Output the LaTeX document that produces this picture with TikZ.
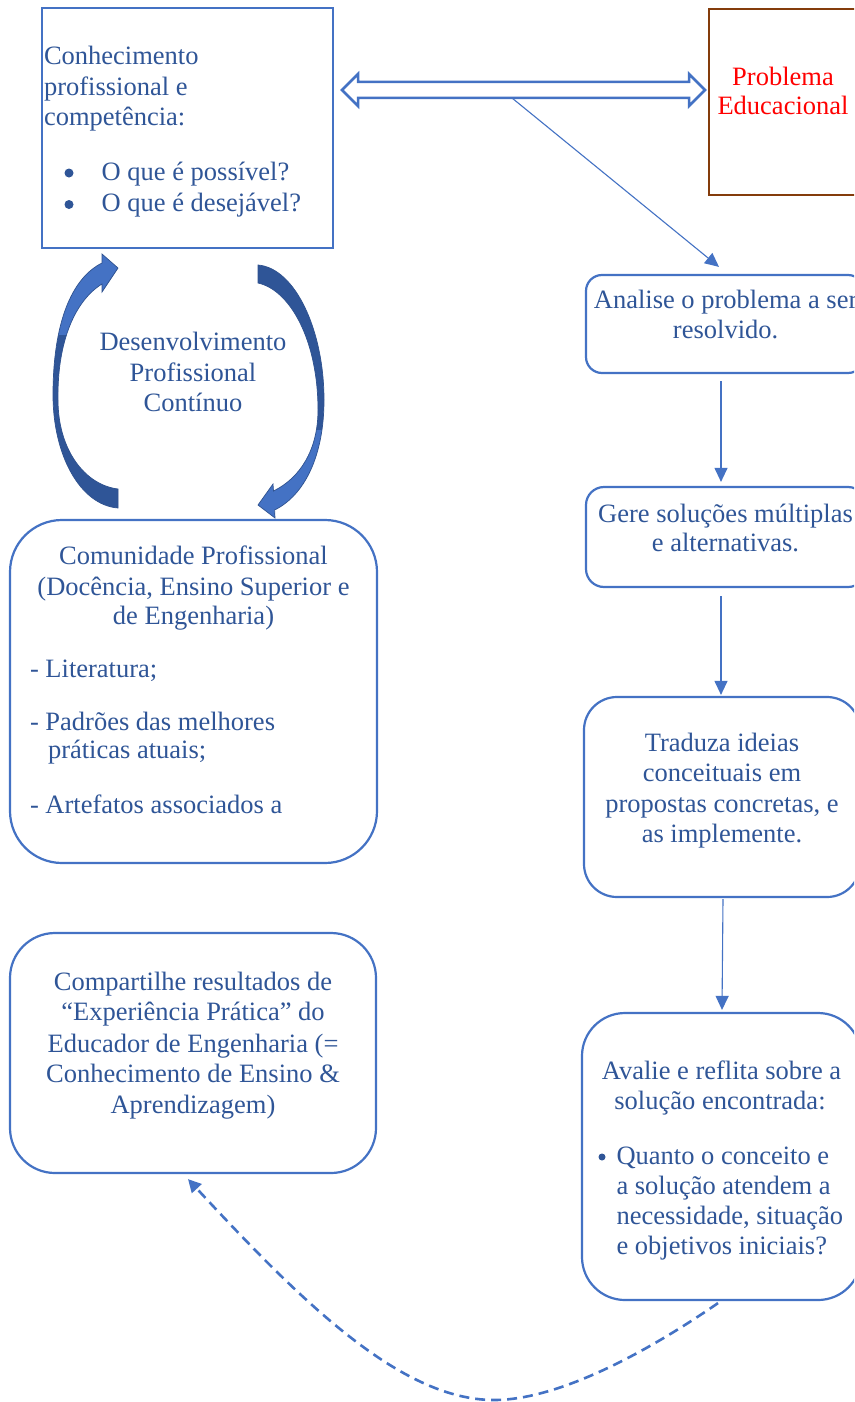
\documentclass[tikz,border=0pt]{standalone}
\usepackage{fontspec}
\setmainfont{Liberation Serif}
\usetikzlibrary{arrows.meta}
\definecolor{boxblue}{HTML}{4472C4}
\definecolor{txtblue}{HTML}{2F5597}
\definecolor{brownb}{HTML}{843C0C}
\definecolor{darkarr}{HTML}{2F5597}
\definecolor{edgearr}{HTML}{2F528F}
\begin{document}
\begin{tikzpicture}[x=1pt,y=-1pt,
  txt/.style={font=\fontsize{26.5}{30.5}\selectfont, text=txtblue, inner sep=0pt, outer sep=0pt},
  rbox/.style={draw=boxblue, line width=2.2pt, inner sep=0pt},
  dot/.style={circle, fill=txtblue, inner sep=0pt},
  arr/.style={draw=boxblue, line width=1.1pt, -{Triangle[length=14pt,width=13pt]}},
  dasharr/.style={draw=boxblue, line width=2.6pt, dash pattern=on 10pt off 6pt, -{Triangle[length=13pt,width=13pt]}},
  dbl/.style={draw=boxblue, fill=white, line width=2.5pt, line join=miter}]
\useasboundingbox (0,0) rectangle (854,1402);
\clip (0,0) rectangle (854,1402);
\fill[white] (0,0) rectangle (854,1402);

% boxes
\node[draw=boxblue, line width=2.2pt, inner sep=0pt, minimum width=291pt, minimum height=240pt] (know) at (187.5,128) {};
\node[draw=brownb, line width=2.5pt, inner sep=0pt, minimum width=161pt, minimum height=186pt] (prob) at (789.5,102) {};
\node[rbox, rounded corners=16pt, minimum width=278pt, minimum height=98pt] (analise) at (725,324) {};
\node[rbox, rounded corners=18pt, minimum width=280pt, minimum height=100pt] (gere) at (726,537) {};
\node[rbox, rounded corners=33pt, minimum width=276pt, minimum height=200pt] (traduza) at (722,797) {};
\node[rbox, rounded corners=43pt, minimum width=279pt, minimum height=287pt] (avalie) at (721.5,1156.5) {};
\node[rbox, rounded corners=45pt, minimum width=366pt, minimum height=240pt] (compart) at (193,1053) {};
\node[rbox, rounded corners=52pt, minimum width=367pt, minimum height=343pt] (comun) at (193.5,691.5) {};

% double arrow
\coordinate (dal) at (342,90);
\coordinate (dar) at (705,90);
\draw[dbl] (dal) -- ++(16,-16) -- ++(0,8) -- (689,82) -- ++(0,-8) -- (dar) -- ++(-16,16) -- ++(0,-8) -- (358,98) -- ++(0,8) -- cycle;
\coordinate (dstart) at (512,98);

% connectors
\draw[arr] (dstart) -- ([shift={(-6,-7)}]analise.north);
\draw[arr] ([shift={(-4,7)}]analise.south) -- ([shift={(-5,-4)}]gere.north);
\draw[arr] ([shift={(-5,8)}]gere.south) -- ([shift={(-1,-1)}]traduza.north);
\draw[arr] ([shift={(1,1)}]traduza.south) -- ([shift={(0.5,-2)}]avalie.north);
\draw[dasharr] ([shift={(-3.5,2)}]avalie.south) .. controls (650,1350) and (560,1400) .. (494,1400) .. controls (400,1400) and (300,1300) .. ([shift={(-5,5)}]compart.south);

% left curved block arrow
\begin{scope}
\clip (118,508) .. controls (80,505) and (53,455) .. (53,395) .. controls (53,322) and (72,278) .. (102,263) -- (102,254) -- (118,268) -- (102,292) -- (102,284) .. controls (76,300) and (57,340) .. (58,400) .. controls (58,450) and (85,485) .. (118,489) -- cycle;
\fill[boxblue] (40,240) rectangle (130,335);
\fill[darkarr] (40,335) rectangle (130,520);
\end{scope}
\draw[edgearr, line width=0.7pt, line join=miter] (118,508) .. controls (80,505) and (53,455) .. (53,395) .. controls (53,322) and (72,278) .. (102,263) -- (102,254) -- (118,268) -- (102,292) -- (102,284) .. controls (76,300) and (57,340) .. (58,400) .. controls (58,450) and (85,485) .. (118,489) -- cycle;

% right curved block arrow
\begin{scope}
\clip (258,265) .. controls (295,268) and (324,330) .. (324,400) .. controls (324,455) and (305,495) .. (274.6,510) -- (275,518) -- (258,505) -- (273,484) -- (273.5,491) .. controls (300,478) and (318,450) .. (318,410) .. controls (318,340) and (290,290) .. (258,283) -- cycle;
\fill[darkarr] (240,250) rectangle (340,430);
\fill[boxblue] (240,430) rectangle (340,530);
\end{scope}
\draw[edgearr, line width=0.7pt, line join=miter] (258,265) .. controls (295,268) and (324,330) .. (324,400) .. controls (324,455) and (305,495) .. (274.6,510) -- (275,518) -- (258,505) -- (273,484) -- (273.5,491) .. controls (300,478) and (318,450) .. (318,410) .. controls (318,340) and (290,290) .. (258,283) -- cycle;

% texts: knowledge box
\node[txt, anchor=base west] (k1) at (44,65) {Conhecimento};
\node[txt, anchor=base west] (k2) at (44,95.5) {profissional e};
\node[txt, anchor=base west] (k3) at (44,126) {competência:};
\node[dot, minimum size=9pt] (kb1) at (69,173) {};
\node[txt, anchor=base west] (k4) at (101.7,180.5) {O que é possível?};
\node[dot, minimum size=9pt] (kb2) at (69,204.5) {};
\node[txt, anchor=base west] (k5) at (101.7,211.5) {O que é desejável?};

% problema
\node[txt, text=red, anchor=base] (p1) at (783,86) {Problema};
\node[txt, text=red, anchor=base] (p2) at (783,115) {Educacional};

% desenvolvimento
\node[txt, anchor=base] (d1) at (193,350.7) {Desenvolvimento};
\node[txt, anchor=base] (d2) at (193,381) {Profissional};
\node[txt, anchor=base] (d3) at (193,411.5) {Contínuo};

% analise
\node[txt, anchor=base] (a1) at (725.6,308) {Analise o problema a ser};
\node[txt, anchor=base] (a2) at (725.6,338) {resolvido.};

% gere
\node[txt, anchor=base] (g1) at (725.5,522) {Gere soluções múltiplas};
\node[txt, anchor=base] (g2) at (725.5,551) {e alternativas.};

% traduza
\node[txt, anchor=base] (t1) at (722,751) {Traduza ideias};
\node[txt, anchor=base] (t2) at (722,781.5) {conceituais em};
\node[txt, anchor=base] (t3) at (722,812) {propostas concretas, e};
\node[txt, anchor=base] (t4) at (722,842.5) {as implemente.};

% avalie
\node[txt, anchor=base] (v1) at (721.5,1079) {Avalie e reflita sobre a};
\node[txt, anchor=base] (v2) at (720,1109) {solução encontrada:};
\node[dot, minimum size=7pt] (vb) at (602,1157) {};
\node[txt, anchor=base west] (v3) at (616.5,1164) {Quanto o conceito e};
\node[txt, anchor=base west] (v4) at (616.5,1194) {a solução atendem a};
\node[txt, anchor=base west] (v5) at (616.5,1224) {necessidade, situação};
\node[txt, anchor=base west] (v6) at (616.5,1254) {e objetivos iniciais?};

% comunidade
\node[txt, anchor=base] (c1) at (193.5,564) {Comunidade Profissional};
\node[txt, anchor=base] (c2) at (193.5,595) {(Docência, Ensino Superior e};
\node[txt, anchor=base] (c3) at (193.5,624) {de Engenharia)};
\node[txt, anchor=base west] (c4) at (30,677) {- Literatura;};
\node[txt, anchor=base west] (c5) at (30,730) {- Padrões das melhores};
\node[txt, anchor=base west] (c6) at (48,758) {práticas atuais;};
\node[txt, anchor=base west] (c7) at (30,813) {- Artefatos associados a};

% compartilhe
\node[txt, anchor=base] (s1) at (193,990.7) {Compartilhe resultados de};
\node[txt, anchor=base] (s2) at (193,1020.7) {“Experiência Prática” do};
\node[txt, anchor=base] (s3) at (193,1052) {Educador de Engenharia (=};
\node[txt, anchor=base] (s4) at (193,1082.7) {Conhecimento de Ensino \&};
\node[txt, anchor=base] (s5) at (193,1113) {Aprendizagem)};
\end{tikzpicture}
\end{document}
